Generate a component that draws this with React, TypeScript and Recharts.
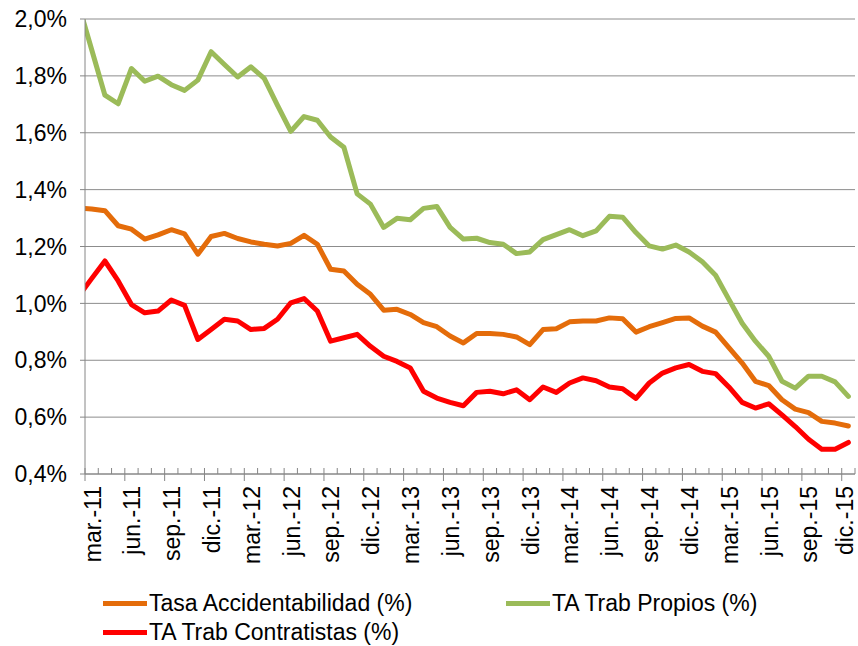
import React from 'react';
import { LineChart, Line, XAxis, YAxis, CartesianGrid } from 'recharts';

// feb.-11 lies left of the value axis; only its clipped segment is visible
const months = [
  'feb.-11', 'mar.-11', 'abr.-11', 'may.-11', 'jun.-11', 'jul.-11', 'ago.-11', 'sep.-11', 'oct.-11', 'nov.-11', 'dic.-11',
  'ene.-12', 'feb.-12', 'mar.-12', 'abr.-12', 'may.-12', 'jun.-12', 'jul.-12', 'ago.-12', 'sep.-12', 'oct.-12', 'nov.-12', 'dic.-12',
  'ene.-13', 'feb.-13', 'mar.-13', 'abr.-13', 'may.-13', 'jun.-13', 'jul.-13', 'ago.-13', 'sep.-13', 'oct.-13', 'nov.-13', 'dic.-13',
  'ene.-14', 'feb.-14', 'mar.-14', 'abr.-14', 'may.-14', 'jun.-14', 'jul.-14', 'ago.-14', 'sep.-14', 'oct.-14', 'nov.-14', 'dic.-14',
  'ene.-15', 'feb.-15', 'mar.-15', 'abr.-15', 'may.-15', 'jun.-15', 'jul.-15', 'ago.-15', 'sep.-15', 'oct.-15', 'nov.-15', 'dic.-15',
];

const tasa = [
  1.336, 1.332, 1.326, 1.273, 1.261, 1.226, 1.241, 1.259, 1.244, 1.173, 1.235,
  1.246, 1.228, 1.216, 1.208, 1.202, 1.211, 1.239, 1.208, 1.12, 1.114, 1.067, 1.032,
  0.976, 0.979, 0.961, 0.932, 0.918, 0.885, 0.861, 0.894, 0.894, 0.891, 0.882, 0.855,
  0.908, 0.911, 0.935, 0.938, 0.938, 0.949, 0.946, 0.899, 0.918, 0.932, 0.947, 0.949,
  0.92, 0.899, 0.844, 0.79, 0.726, 0.711, 0.661, 0.628, 0.616, 0.585, 0.579, 0.569,
];

const propios = [
  2.053, 1.893, 1.732, 1.702, 1.826, 1.781, 1.799, 1.769, 1.749, 1.785, 1.885,
  1.84, 1.796, 1.832, 1.791, 1.696, 1.605, 1.657, 1.644, 1.585, 1.549, 1.385, 1.349,
  1.267, 1.299, 1.294, 1.334, 1.341, 1.267, 1.226, 1.229, 1.214, 1.208, 1.175, 1.181,
  1.224, 1.242, 1.259, 1.238, 1.255, 1.306, 1.303, 1.249, 1.202, 1.191, 1.205, 1.181,
  1.146, 1.099, 1.014, 0.93, 0.867, 0.814, 0.726, 0.702, 0.744, 0.744, 0.724, 0.673,
];

const contratistas = [
  1.024, 1.087, 1.149, 1.079, 0.996, 0.967, 0.973, 1.012, 0.993, 0.873, 0.908,
  0.944, 0.938, 0.908, 0.912, 0.944, 1.002, 1.017, 0.973, 0.867, 0.879, 0.891, 0.849,
  0.814, 0.796, 0.773, 0.691, 0.667, 0.652, 0.64, 0.687, 0.691, 0.682, 0.696, 0.661,
  0.706, 0.687, 0.72, 0.738, 0.728, 0.706, 0.7, 0.666, 0.72, 0.755, 0.773, 0.785,
  0.761, 0.753, 0.706, 0.652, 0.632, 0.647, 0.608, 0.567, 0.522, 0.487, 0.487, 0.511,
];

const yTicks = [0.4, 0.6, 0.8, 1.0, 1.2, 1.4, 1.6, 1.8, 2.0];

const series = [
  { key: 'tasa', name: 'Tasa Accidentabilidad (%)', color: '#E46C0A' },
  { key: 'propios', name: 'TA Trab Propios (%)', color: '#9BBB59' },
  { key: 'contratistas', name: 'TA Trab Contratistas (%)', color: '#FF0000' },
];

const data = months.map((month, i) => ({
  idx: i - 1,
  month,
  tasa: tasa[i],
  propios: propios[i],
  contratistas: contratistas[i],
}));

const visibleMonths = months.slice(1);
// category boundaries, where Excel draws its tick marks
const boundaries = Array.from({ length: visibleMonths.length + 1 }, (_, j) => j - 0.5);

const FONT = '"Liberation Sans", Arial, sans-serif';
const AXIS = '#868686';
const WIDTH = 858;

const MonthTick = ({ x, y, payload }: any) => {
  const j = payload.value + 0.5;
  const major = j % 3 === 0;
  const label = major && j < visibleMonths.length ? visibleMonths[j] : null;
  // keep the last rotated label inside the picture
  const lx = Math.min(x + 7.5, WIDTH - 13);
  return (
    <g>
      <line x1={x} x2={x} y1={y - 6} y2={major ? y + 7 : y} stroke={AXIS} strokeWidth={1} />
      {label && (
        <text
          transform={`translate(${lx}, ${y + 12}) rotate(-90)`}
          textAnchor="end"
          dominantBaseline="central"
          fontSize={23}
          fontFamily={FONT}
          fill="#000"
        >
          {label}
        </text>
      )}
    </g>
  );
};

const legendItems = [
  { s: series[0], left: 103, top: 603 },
  { s: series[1], left: 506, top: 603 },
  { s: series[2], left: 103, top: 632 },
];

export default function App() {
  return (
    <div style={{ position: 'relative', width: WIDTH, height: 646, background: '#fff' }}>
      <style>{'body{margin:0}'}</style>
      <LineChart
        width={WIDTH}
        height={646}
        data={data}
        margin={{ top: 19, right: 3, bottom: 0, left: 0 }}
      >
        <CartesianGrid vertical={false} stroke="#8c8c8c" />
        <XAxis
          dataKey="idx"
          type="number"
          domain={[-0.5, visibleMonths.length - 0.5]}
          allowDataOverflow
          ticks={boundaries}
          interval={0}
          height={172}
          tickSize={0}
          tickMargin={0}
          tickLine={false}
          axisLine={{ stroke: AXIS }}
          tick={<MonthTick />}
        />
        <YAxis
          width={85}
          domain={[0.4, 2.0]}
          ticks={yTicks}
          allowDataOverflow
          axisLine={{ stroke: AXIS }}
          tickLine={{ stroke: AXIS }}
          tickSize={5}
          tickMargin={13}
          tick={{ fontSize: 23, fontFamily: FONT, fill: '#000' }}
          tickFormatter={(v: number) => v.toFixed(1).replace('.', ',') + '%'}
        />
        {series.map((s) => (
          <Line
            key={s.key}
            dataKey={s.key}
            name={s.name}
            stroke={s.color}
            strokeWidth={5}
            strokeLinejoin="round"
            strokeLinecap="round"
            dot={false}
            activeDot={false}
            isAnimationActive={false}
          />
        ))}
      </LineChart>
      {legendItems.map(({ s, left, top }) => (
        <div
          key={s.key}
          style={{
            position: 'absolute',
            left,
            top: top - 14,
            height: 28,
            display: 'flex',
            alignItems: 'center',
            fontFamily: FONT,
            fontSize: 23,
            color: '#000',
            whiteSpace: 'nowrap',
          }}
        >
          <div style={{ width: 44, height: 5, background: s.color, marginRight: 2 }} />
          <span>{s.name}</span>
        </div>
      ))}
    </div>
  );
}
